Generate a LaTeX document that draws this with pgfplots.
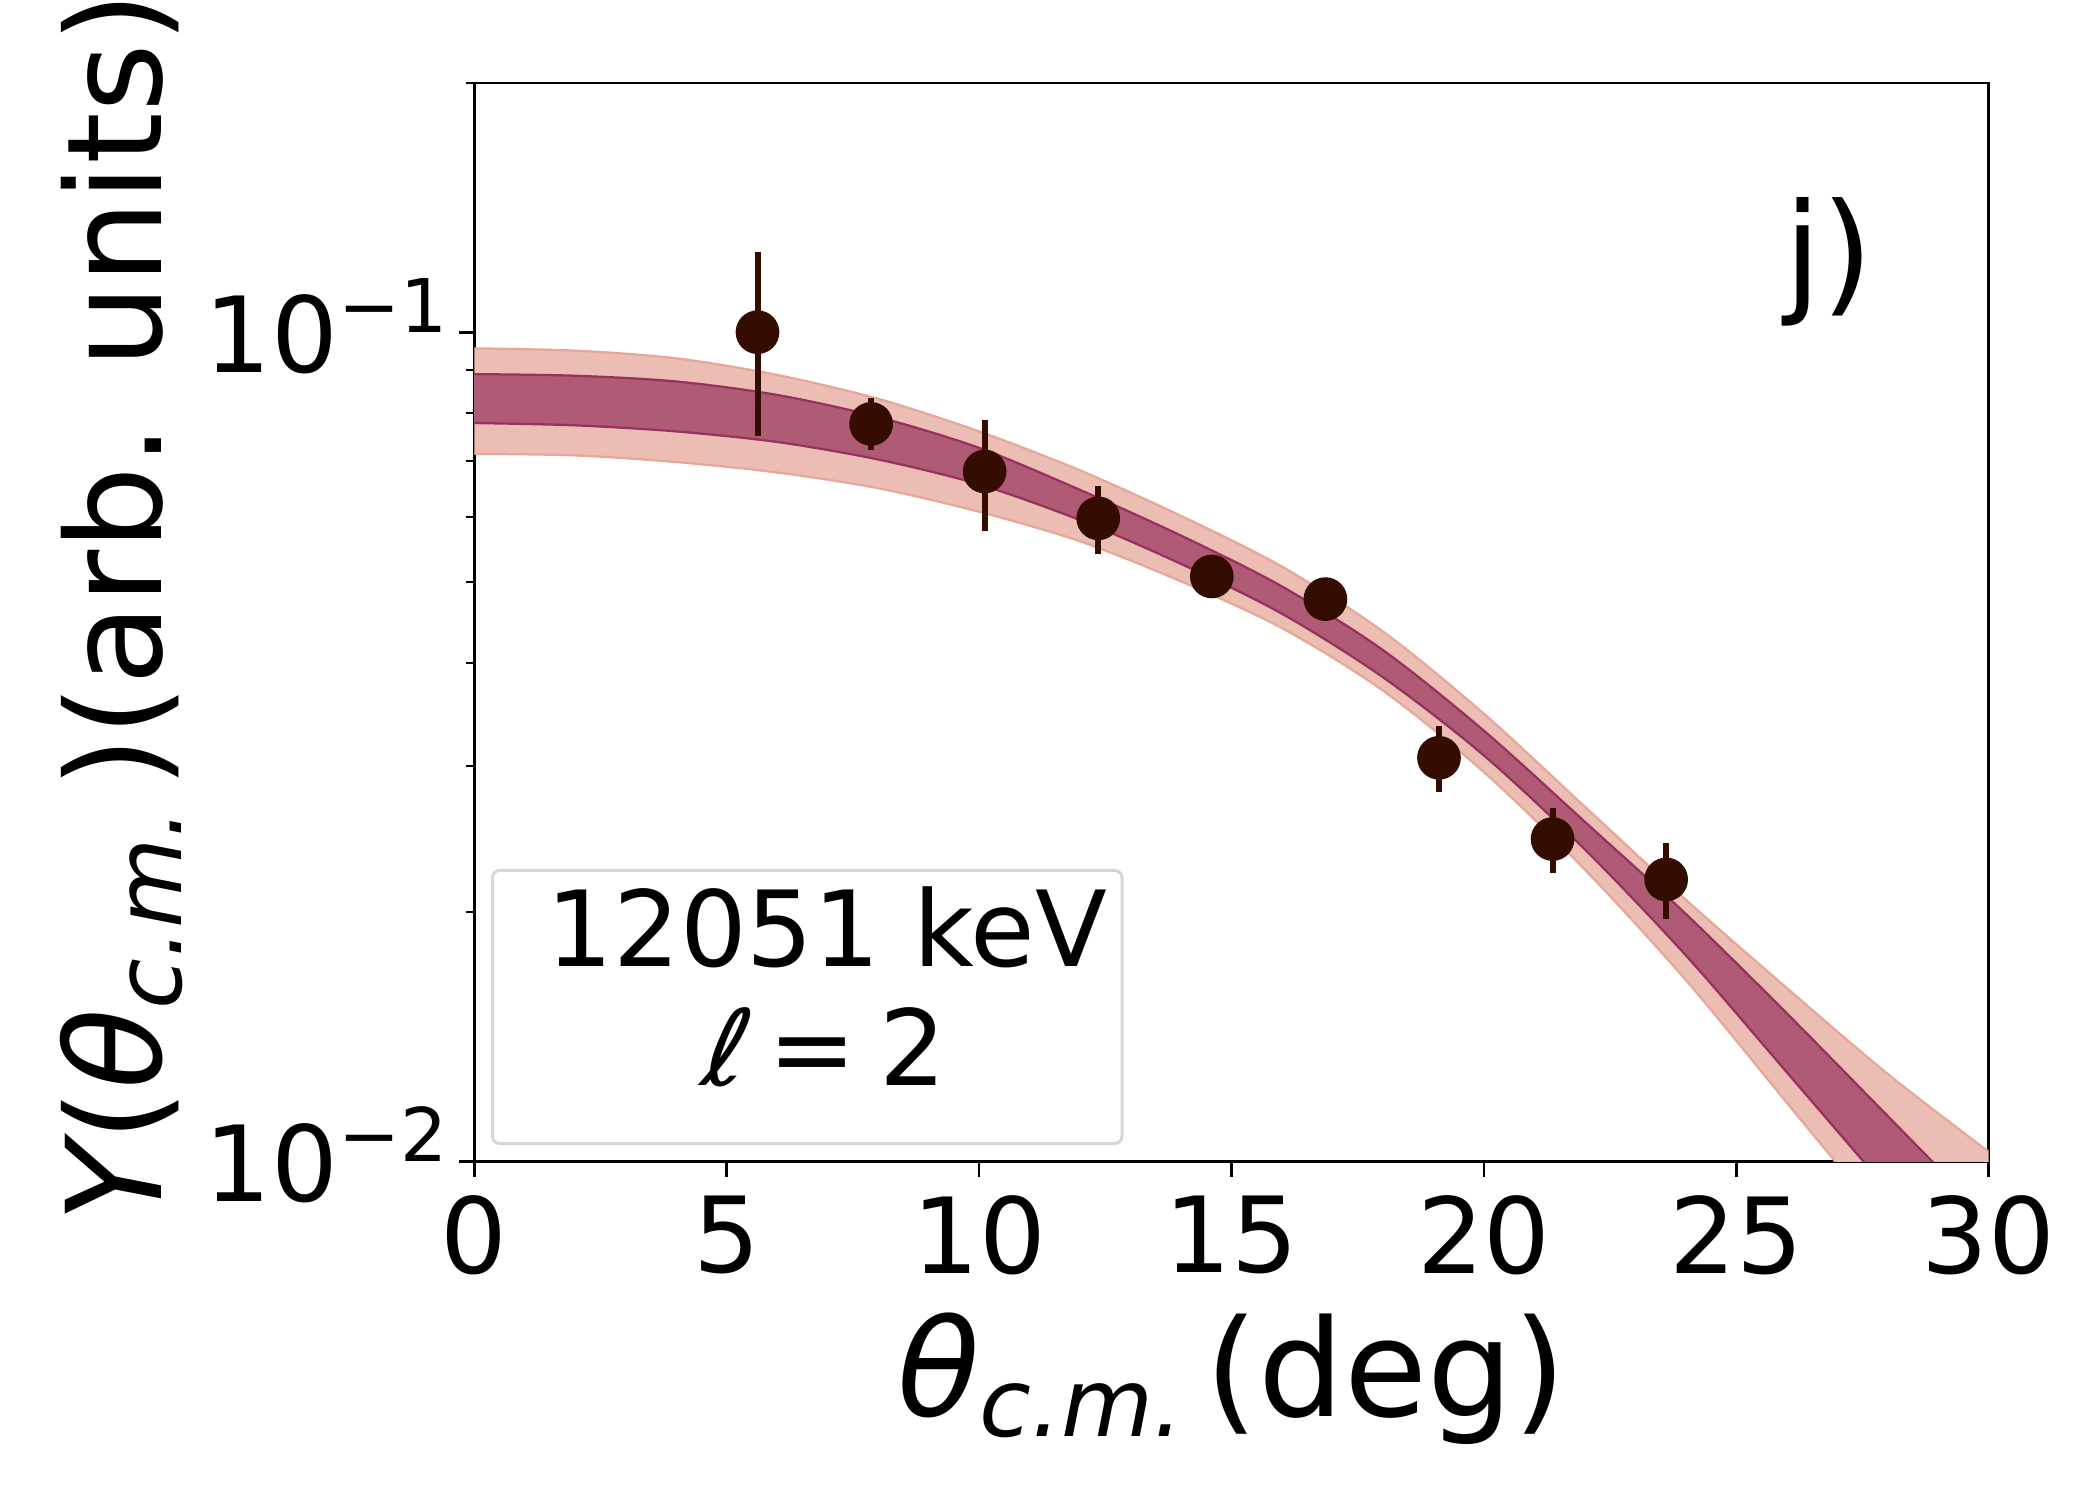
\documentclass[border=0pt]{standalone}
\usepackage{fontspec}
\setmainfont{DejaVu Sans}
\newfontfamily\slantdv[FakeSlant=0.2]{DejaVu Sans}
\usepackage{pgfplots}
\usepackage{pgfplotstable}
\pgfplotsset{compat=1.18}
\usepgfplotslibrary{fillbetween}
\definecolor{outfill}{HTML}{ECBDB3}
\definecolor{outedge}{HTML}{E5A899}
\definecolor{infill}{HTML}{B05B75}
\definecolor{inedge}{HTML}{983060}
\definecolor{ptcol}{HTML}{340D00}
\definecolor{leggray}{gray}{0.84}

\pgfplotstableread{
x ou iu il ol
0 0.0957 0.0891 0.0778 0.0714
2 0.0951 0.0887 0.0773 0.0711
4 0.0931 0.0873 0.0760 0.0698
6 0.0889 0.0841 0.0738 0.0678
8 0.0832 0.0791 0.0703 0.0649
10 0.0760 0.0726 0.0656 0.0608
12 0.0682 0.0646 0.0594 0.0560
14 0.0601 0.0569 0.0526 0.0501
16 0.0522 0.0494 0.0458 0.0440
18 0.0436 0.0414 0.0384 0.0370
20 0.0347 0.0331 0.0309 0.0295
22 0.0268 0.0257 0.0238 0.0225
24 0.0207 0.0199 0.01774 0.01656
26 0.0162 0.01510 0.01282 0.01178
28 0.01276 0.01135 0.00925 0.00838
30 0.01028 0.00853 0.00667 0.00596
}\band

\pgfplotstableread{
x y ep em
5.61 0.1001 0.0249 0.0250
7.86 0.0776 0.0057 0.0055
10.11 0.0680 0.0105 0.0103
12.36 0.0597 0.0056 0.0056
14.61 0.0508 0.0030 0.0029
16.86 0.0477 0.0018 0.0018
19.11 0.0307 0.0028 0.0028
21.36 0.0245 0.0022 0.0022
23.61 0.0219 0.0023 0.0023
}\pts

\begin{document}
\begin{tikzpicture}
\begin{axis}[
  at={(94.86pt,67.66pt)}, anchor=south west,
  width=302.88pt, height=215.74pt, scale only axis,
  xmin=0, xmax=30, ymode=log, ymin=0.01, ymax=0.2,
  xtick={0,5,10,15,20,25,30},
  ytick={0.01,0.1},
  yticklabels={{10\raisebox{7.9pt}{\fontsize{14.8}{16}\selectfont −2}},{10\raisebox{7.9pt}{\fontsize{14.8}{16}\selectfont −1}}},
  minor ytick={0.02,0.03,0.04,0.05,0.06,0.07,0.08,0.09,0.2},
  tick align=outside, tick pos=left,
  major tick length=3pt, minor tick length=1.7pt,
  tick style={black},
  every major tick/.append style={line width=0.55pt},
  every minor tick/.append style={line width=0.4pt},
  axis line style={line width=0.55pt},
  /pgf/number format/assume math mode=true,
  ticklabel style={font=\fontsize{21}{25}\selectfont},
  xticklabel style={inner sep=0pt, yshift=-3.66pt},
  yticklabel style={anchor=base east, inner sep=0pt, xshift=-2.2pt, yshift=-7.9pt},
  xlabel={{\itshape θ}\raisebox{-4pt}{\fontsize{18.9}{20}\selectfont\itshape c.m.}\hspace{4.4pt}(deg)},
  ylabel={{\itshape Y}({\itshape θ}\raisebox{-4pt}{\fontsize{18.5}{20}\selectfont\itshape c.m.}\hspace{4.2pt})(arb. units)},
  xlabel style={at={(axis description cs:0.5,-0.2364)}, anchor=base, inner sep=0pt, font=\fontsize{27}{32}\selectfont},
  ylabel style={at={(axis description cs:-0.2064,0.514)}, anchor=base, inner sep=0pt, font=\fontsize{26.4}{31}\selectfont},
  clip=true,
]
\addplot[draw=none, smooth, name path=ou, forget plot] table[x=x,y=ou]{\band};
\addplot[draw=none, smooth, name path=ol, forget plot] table[x=x,y=ol]{\band};
\addplot[draw=none, smooth, name path=iu, forget plot] table[x=x,y=iu]{\band};
\addplot[draw=none, smooth, name path=il, forget plot] table[x=x,y=il]{\band};
\addplot[outfill, draw=none] fill between[of=ou and ol];
\addplot[infill, draw=none] fill between[of=iu and il];
\addplot[outedge, line width=0.45pt, smooth] table[x=x,y=ou]{\band};
\addplot[outedge, line width=0.45pt, smooth] table[x=x,y=ol]{\band};
\addplot[inedge, line width=0.45pt, smooth] table[x=x,y=iu]{\band};
\addplot[inedge, line width=0.45pt, smooth] table[x=x,y=il]{\band};
\addplot[only marks, mark=*, mark size=4.17pt, color=ptcol,
  mark options={fill=ptcol, draw=none},
  error bars/.cd, y dir=both, y explicit, error mark=none,
  error bar style={line width=1.2pt, color=ptcol}]
  table[x=x, y=y, y error plus=ep, y error minus=em]{\pts};
\end{axis}
\draw[leggray, line width=0.6pt, rounded corners=1.4pt, fill=white] (98.5pt,71.3pt) rectangle (224.4pt,125.9pt);
\node[anchor=base, inner sep=0pt, font=\fontsize{21}{25}\selectfont] at (165.4pt,106.66pt) {12051 keV};
\node[anchor=base, inner sep=0pt, font=\fontsize{21}{25}\selectfont] at (164.6pt,83pt) {{\slantdv ℓ}\hspace{0.24em}=\hspace{0.22em}2};
\node[anchor=base west, inner sep=0pt, font=\fontsize{26.6}{30}\selectfont] at (356.6pt,240.2pt) {j)};
\pgfresetboundingbox
\useasboundingbox (0,0) rectangle (420pt,300pt);
\end{tikzpicture}
\end{document}
